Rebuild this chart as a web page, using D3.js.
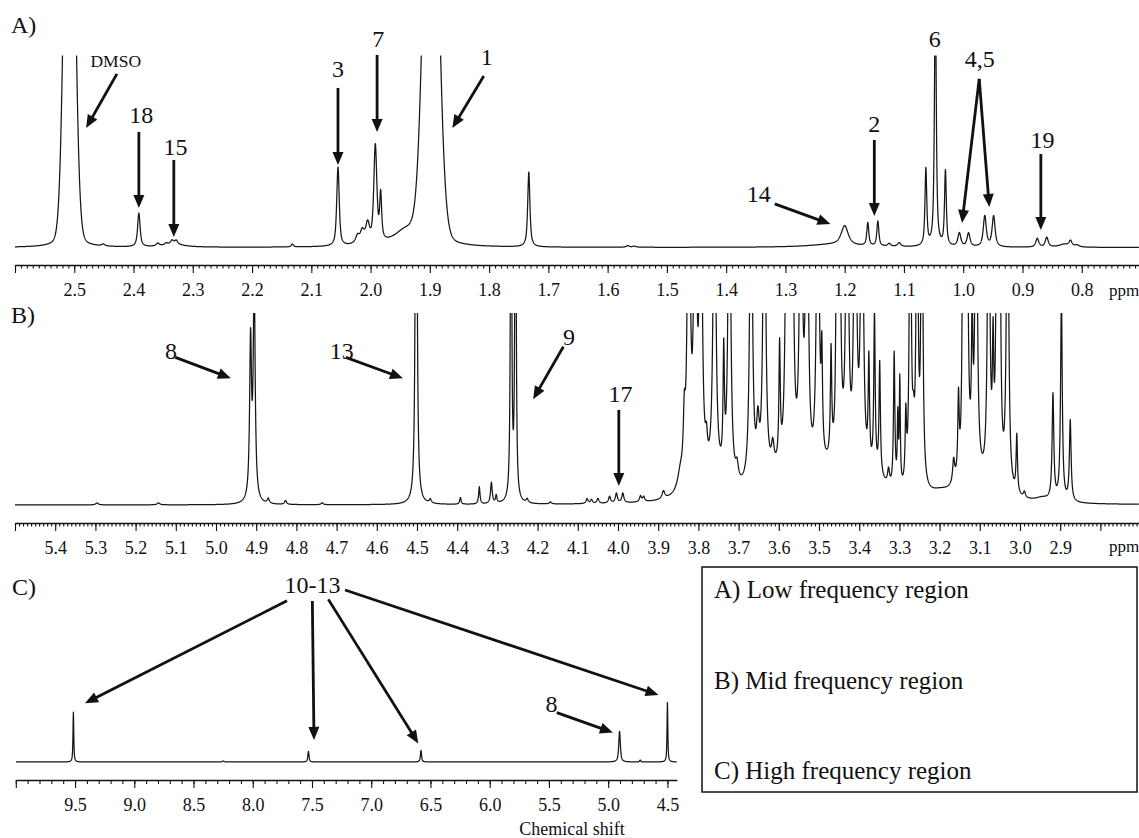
<!DOCTYPE html>
<html><head><meta charset="utf-8">
<script src="https://cdn.jsdelivr.net/npm/d3@7"></script>
<style>
body{margin:0;background:#fff;}
svg{display:block;font-family:"Liberation Serif","Times New Roman",serif;}
</style></head><body>
<svg id="c" width="1139" height="838"></svg>
<script>
// ---------- DATA (ppm, intensity [100 = top of panel], half-width (ppm), lorentzian fraction) ----------
const peaksA = [
  [2.508,306,0.0093,0.1],[2.451,1,0.003,1],[2.391,17.5,0.0025,0.8],[2.359,1.5,0.003,1],
  [2.345,1,0.003,1],[2.335,2,0.003,1],[2.328,2,0.003,1],[2.332,1.5,0.02,1],[2.132,1.5,0.002,1],
  [2.055,41,0.0025,0.7],[2.022,4,0.004,1],[2.014,6,0.004,1],[2.005,10,0.004,1],
  [1.992,50,0.003,0.6],[1.983,24,0.002,0.8],[1.94,8,0.025,1],[1.898,273,0.0133,0.1],
  [1.733,39,0.0022,0.8],[1.566,0.8,0.003,1],[1.555,0.6,0.003,1],[1.22,1.5,0.05,1],
  [1.200,10,0.007,0.8],[1.161,12,0.002,0.8],[1.144,13,0.002,0.8],[1.125,1.5,0.003,1],
  [1.108,2,0.003,1],[1.063,40,0.0018,0.8],[1.047,135,0.0018,0.8],[1.030,39,0.0018,0.8],
  [1.0065,7,0.003,0.8],[0.991,7,0.003,0.8],[0.9636,16,0.003,0.8],[0.9487,16,0.003,0.8],
  [0.875,4.5,0.003,0.8],[0.859,5,0.003,0.8],[0.83,1.5,0.01,1],[0.819,3,0.003,1],[0.808,1,0.004,1]
];
const peaksB = [
  [5.296,1,0.004,1],[5.143,1,0.004,1],[4.914,82,0.0028,1],[4.905,115,0.0028,1],
  [4.870,2.5,0.003,1],[4.827,2,0.003,1],[4.736,1,0.003,1],[4.502,340,0.002,1],
  [4.467,2,0.003,1],[4.392,3.5,0.002,1],[4.345,9,0.002,1],[4.315,11,0.0025,1],[4.303,4,0.002,1],
  [4.266,280,0.0015,1],[4.255,280,0.0015,1],[4.226,2,0.003,1],[4.168,1,0.003,1],
  [4.077,2.5,0.003,1],[4.066,2,0.003,1],[4.050,2.5,0.003,1],[4.021,3.5,0.003,1],
  [4.004,5,0.003,1],[3.988,5,0.003,1],[3.944,3,0.003,1],[3.936,2.5,0.003,1],[3.887,4,0.004,1],
  [3.845,8,0.008,1],[3.835,28,0.003,1],
  [3.824,220,0.0035,1],[3.808,200,0.0035,1],[3.794,200,0.0035,1],[3.780,12,0.003,1],
  [3.760,200,0.0035,1],[3.737,60,0.002,1],[3.723,200,0.0035,1],[3.704,8,0.004,1],
  [3.669,200,0.0035,1],[3.652,25,0.004,1],[3.636,200,0.0035,1],[3.615,12,0.004,1],
  [3.598,60,0.002,1],[3.580,200,0.0035,1],[3.567,200,0.0035,1],[3.545,200,0.0035,1],
  [3.530,200,0.0035,1],[3.503,200,0.0035,1],[3.493,50,0.002,1],[3.470,55,0.002,1],
  [3.457,65,0.002,1],[3.450,200,0.0035,1],[3.430,200,0.0035,1],[3.410,200,0.0035,1],
  [3.393,200,0.0035,1],[3.376,55,0.002,1],[3.362,82,0.002,1],[3.349,58,0.002,1],
  [3.327,8,0.003,1],[3.313,70,0.002,1],[3.304,35,0.0015,1],[3.299,55,0.0015,1],
  [3.284,35,0.002,1],[3.273,200,0.0025,1],[3.265,20,0.003,1],[3.256,200,0.0025,1],
  [3.244,200,0.0025,1],[3.20,3,0.03,1],[3.165,12,0.003,1],[3.153,40,0.002,1],
  [3.143,65,0.002,1],[3.138,200,0.0025,1],[3.132,200,0.0025,1],[3.119,70,0.002,1],
  [3.109,200,0.003,1],[3.078,200,0.003,1],[3.067,60,0.002,1],[3.057,200,0.0025,1],
  [3.051,200,0.0025,1],[3.031,200,0.003,1],[3.008,30,0.002,1],
  [2.989,3,0.003,1],[2.945,2,0.02,1],[2.918,55,0.0025,1],[2.897,105,0.0025,1],[2.875,42,0.0025,1],
  [3.76,8,0.04,1],[3.60,10,0.05,1],[3.47,12,0.04,1],[3.36,10,0.03,1],[3.12,10,0.04,1]
];
const peaksC = [
  [9.514,26,0.004,0.8],[8.25,0.5,0.01,1],[7.530,5.5,0.006,0.8],[6.580,6,0.006,0.8],
  [4.904,16,0.008,0.8],[4.73,1,0.005,1],[4.500,31,0.004,0.8]
];
const majorTicksA = [2.5,2.4,2.3,2.2,2.1,2.0,1.9,1.8,1.7,1.6,1.5,1.4,1.3,1.2,1.1,1.0,0.9,0.8];
const majorTicksB = [5.4,5.3,5.2,5.1,5.0,4.9,4.8,4.7,4.6,4.5,4.4,4.3,4.2,4.1,4.0,3.9,3.8,3.7,3.6,3.5,3.4,3.3,3.2,3.1,3.0,2.9];
const majorTicksC = [9.5,9.0,8.5,8.0,7.5,7.0,6.5,6.0,5.5,5.0,4.5];
const edgeTicksA = [2.6,0.7], edgeTicksB = [5.5,2.8,2.7], edgeTicksC = [10.0];
// annotations: [text, ppm, intensity]
const labelsA = [["18",2.387,64.8],["15",2.329,48.2],["3",2.055,88.8],["7",1.987,104.4],["1",1.804,95.1],
  ["14",1.345,23.7],["2",1.150,60.2],["6",1.048,104.4],["4,5",0.972,94.0],["19",0.866,51.8]];
const smallLabelsA = [["DMSO",2.430,94.0]];
const arrowsA = [[2.428,90.4,2.480,62.2],[2.391,60.2,2.391,20.6],[2.332,45.6,2.332,5.5],
  [2.055,83.1,2.055,43.0],[1.989,100.3,1.989,60.2],[1.809,89.3,1.862,62.2],[1.318,22.7,1.224,12.2],
  [1.150,56.0,1.150,16.4],[0.973,87.8,1.002,12.8],[0.973,87.8,0.956,21.1],[0.869,48.7,0.869,9.1]];
const labelsB = [["8",5.112,76.0],["13",4.687,76.0],["9",4.122,83.3],["17",3.994,53.6]];
const arrowsB = [[5.101,76.9,4.963,66.0],[4.677,76.9,4.535,66.0],[4.136,82.4,4.211,55.1],[3.998,49.5,3.998,9.9]];
const labelsC = [["10-13",7.496,88.0],["8",5.479,26.0]];
const arrowsC = [[7.711,84.0,9.416,30.6],[7.497,83.9,7.483,11.5],[7.362,84.7,6.603,9.7],[7.221,89.6,4.575,34.9],[5.434,25.7,4.960,15.3]];
const legendItems = ["A) Low frequency region","B) Mid frequency region","C) High frequency region"];
const panelNames = ["A)","B)","C)"];

// ---------- DRAWING ----------
const svg = d3.select("#c");
const fmt = d3.format(".1f");

function intensity(peaks, v){
  let s = 0;
  for (const [p,h,w,eta] of peaks){
    const r = (v-p)/w, r2 = r*r;
    s += h*(eta/(1+r2) + (1-eta)*Math.exp(-0.6931*r2));
  }
  return s;
}

function panel(cfg){
  const x = d3.scaleLinear().domain(cfg.domain).range(cfg.range);
  const y = d3.scaleLinear().domain([0,100]).range([cfg.base, cfg.top]);
  const g = svg.append("g");
  const id = "clip"+cfg.name;
  svg.append("clipPath").attr("id",id).append("rect")
    .attr("x",cfg.range[0]).attr("y",cfg.top).attr("width",Math.min(cfg.range[1],1139)-cfg.range[0]).attr("height",cfg.base-cfg.top+15);
  const pts = [];
  for (let px = cfg.range[0]; px <= Math.min(cfg.range[1],1139); px += 0.2) pts.push(x.invert(px));
  cfg.peaks.forEach(p=>pts.push(p[0]));
  pts.sort((a,b)=> x(a)-x(b));
  const data = pts.map(v=>[v,intensity(cfg.peaks,v)]);
  g.append("path").datum(data).attr("clip-path",`url(#${id})`)
    .attr("fill","none").attr("stroke","#161616").attr("stroke-width",1.25).attr("stroke-linejoin","round")
    .attr("d", d3.line().x(d=>x(d[0])).y(d=>y(d[1])));
  // axes
  const ax = g.append("g").attr("transform",`translate(0,${cfg.axisY})`);
  ax.call(d3.axisBottom(x).tickValues(cfg.minor).tickSize(cfg.minorLen).tickSizeOuter(0).tickFormat(""));
  ax.call(g2=>g2.select(".domain").remove());
  const ax2 = g.append("g").attr("transform",`translate(0,${cfg.axisY})`);
  ax2.call(d3.axisBottom(x).tickValues(cfg.edge).tickSize(8).tickSizeOuter(0).tickFormat(""));
  ax2.call(g2=>g2.select(".domain").remove());
  const ax3 = g.append("g").attr("transform",`translate(0,${cfg.axisY})`);
  ax3.call(d3.axisBottom(x).tickValues(cfg.major).tickSize(8).tickSizeOuter(0).tickPadding(10).tickFormat(fmt));
  ax3.select(".domain").attr("stroke-width",1.5).attr("stroke","#111");
  g.selectAll(".tick line").attr("stroke","#111").attr("stroke-width",1.1);
  ax3.selectAll("text").attr("font-family",'"Liberation Serif",serif').attr("font-size",18).attr("fill","#111");
  // labels
  g.selectAll(".lbl").data(cfg.labels).join("text").attr("class","lbl")
    .attr("x",d=>x(d[1])).attr("y",d=>y(d[2])).attr("text-anchor","middle")
    .attr("font-size",24).attr("fill","#111").text(d=>d[0]);
  (cfg.small||[]).forEach(d=>{
    g.append("text").attr("x",x(d[1])).attr("y",y(d[2])).attr("text-anchor","middle")
     .attr("font-size",17.5).attr("fill","#111").text(d[0]);
  });
  cfg.arrows.forEach(a=>arrow(g,x(a[0]),y(a[1]),x(a[2]),y(a[3])));
  return {x,y,g};
}

function arrow(g,x1,y1,x2,y2){
  const dx=x2-x1, dy=y2-y1, len=Math.hypot(dx,dy), ux=dx/len, uy=dy/len;
  const hl=13, hw=5.5;
  const bx=x2-ux*hl, by=y2-uy*hl;
  g.append("line").attr("x1",x1).attr("y1",y1).attr("x2",bx+ux*2).attr("y2",by+uy*2)
    .attr("stroke","#111").attr("stroke-width",2.8);
  g.append("path").attr("d",`M${x2},${y2}L${bx-uy*hw},${by+ux*hw}L${bx+uy*hw},${by-ux*hw}Z`).attr("fill","#111");
}

panel({name:"A",domain:[2.6,0.7],range:[15,1141],base:247.5,top:55.5,axisY:265,
  peaks:peaksA,major:majorTicksA,edge:edgeTicksA,minor:d3.range(70,261).map(i=>i/100),minorLen:3.5,
  labels:labelsA,small:smallLabelsA,arrows:arrowsA});
panel({name:"B",domain:[5.5,2.7],range:[15,1140.6],base:505,top:313,axisY:523,
  peaks:peaksB,major:majorTicksB,edge:edgeTicksB,minor:d3.range(270,551).map(i=>i/100),minorLen:3.5,
  labels:labelsB,arrows:arrowsB});
panel({name:"C",domain:[10.0,4.42],range:[15.8,676.9],base:762,top:570,axisY:780,
  peaks:peaksC,major:majorTicksC,edge:edgeTicksC,minor:d3.range(45,101).map(i=>i/10),minorLen:4,
  labels:labelsC,arrows:arrowsC});

// panel letters, ppm, axis title
[[11,33],[11,323],[12,595]].forEach((p,i)=>svg.append("text").attr("x",p[0]).attr("y",p[1])
  .attr("font-size",24).attr("fill","#111").text(panelNames[i]));
[296,552].forEach(yb=>svg.append("text").attr("x",1109).attr("y",yb).attr("font-size",17).attr("fill","#111").text("ppm"));
svg.append("text").attr("x",572).attr("y",835).attr("text-anchor","middle").attr("font-size",18).attr("fill","#111").text("Chemical shift");

// legend box
svg.append("rect").attr("x",702).attr("y",567).attr("width",435).attr("height",225)
  .attr("fill","none").attr("stroke","#111").attr("stroke-width",1.5);
svg.selectAll(".leg").data(legendItems).join("text").attr("class","leg")
  .attr("x",714).attr("y",(d,i)=>[598,689,779][i]).attr("font-size",25).attr("fill","#111").text(d=>d);
</script>
</body></html>
